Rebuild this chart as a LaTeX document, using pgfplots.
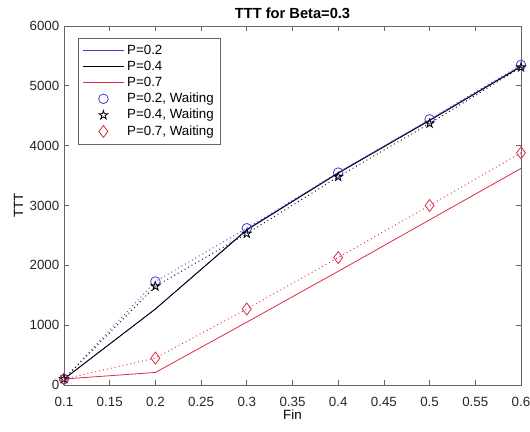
\documentclass[border=0pt]{standalone}
\usepackage{pgfplots}
\pgfplotsset{compat=1.18}
\usepackage{fontspec}
\setmainfont{Liberation Sans}
\definecolor{mblue}{rgb}{0.25,0.25,0.85}
\definecolor{mred}{rgb}{0.87,0.17,0.25}
\pgfdeclareplotmark{pentagram}{%
  \pgfpathmoveto{\pgfpointpolar{90}{\pgfplotmarksize}}%
  \pgfpathlineto{\pgfpointpolar{126}{0.382\pgfplotmarksize}}%
  \pgfpathlineto{\pgfpointpolar{162}{\pgfplotmarksize}}%
  \pgfpathlineto{\pgfpointpolar{198}{0.382\pgfplotmarksize}}%
  \pgfpathlineto{\pgfpointpolar{234}{\pgfplotmarksize}}%
  \pgfpathlineto{\pgfpointpolar{270}{0.382\pgfplotmarksize}}%
  \pgfpathlineto{\pgfpointpolar{306}{\pgfplotmarksize}}%
  \pgfpathlineto{\pgfpointpolar{342}{0.382\pgfplotmarksize}}%
  \pgfpathlineto{\pgfpointpolar{18}{\pgfplotmarksize}}%
  \pgfpathlineto{\pgfpointpolar{54}{0.382\pgfplotmarksize}}%
  \pgfpathclose\pgfusepathqstroke}
\begin{document}
\begin{tikzpicture}
\begin{axis}[
  scale only axis,
  width=342.75pt, height=269.25pt,
  xmin=0.1, xmax=0.6, ymin=0, ymax=6000,
  xtick={0.1,0.15,...,0.6},
  ytick={0,1000,...,6000},
  xticklabels={0.1,0.15,0.2,0.25,0.3,0.35,0.4,0.45,0.5,0.55,0.6},
  scaled y ticks=false,
  /pgf/number format/assume math mode=true,
  yticklabel style={/pgf/number format/1000 sep={}},
  xticklabel style={yshift=-5.5pt},
  tick align=inside,
  tick pos=both,
  major tick length=4pt,
  ticklabel style={font=\fontsize{10}{12}\selectfont, color=black!85},
  axis line style={black!60, line width=0.6pt},
  every tick/.style={black!60, line width=0.6pt},
  title={\bfseries TTT for Beta=0.3},
  title style={font=\fontsize{11}{13}\selectfont, yshift=-4pt},
  xlabel={Fin}, ylabel={TTT},
  label style={font=\fontsize{10}{12}\selectfont},
  xlabel style={yshift=4pt},
  ylabel style={yshift=-2pt},
  legend style={at={(0.0306,0.9666)}, anchor=north west, font=\fontsize{10}{12}\selectfont, draw=black!60, line width=0.6pt, row sep=-0.5pt, inner xsep=3pt, inner ysep=3pt},
  legend cell align=left,
  legend image code/.code={\draw[mark repeat=2,mark phase=2,#1] plot coordinates {(0pt,0pt) (15.5pt,0pt) (31pt,0pt)};},
]
\addplot[mblue, line width=0.6pt] coordinates {(0.1,100) (0.2,1270) (0.3,2600) (0.4,3550) (0.5,4430) (0.6,5330)};
\addlegendentry{P=0.2}
\addplot[black, line width=0.6pt] coordinates {(0.1,100) (0.2,1270) (0.3,2590) (0.4,3540) (0.5,4420) (0.6,5320)};
\addlegendentry{P=0.4}
\addplot[mred, line width=0.6pt] coordinates {(0.1,100) (0.2,210) (0.3,1050) (0.4,1900) (0.5,2760) (0.6,3620)};
\addlegendentry{P=0.7}
\addplot[mblue, only marks, mark=o, mark size=3.6pt, mark options={line width=0.6pt}] coordinates {(0.1,100) (0.2,1730) (0.3,2620) (0.4,3550) (0.5,4440) (0.6,5350)};
\addlegendentry{P=0.2, Waiting}
\addplot[black, only marks, mark=pentagram, mark size=3.4pt, mark options={line width=0.6pt}] coordinates {(0.1,100) (0.2,1650) (0.3,2530) (0.4,3480) (0.5,4370) (0.6,5310)};
\addlegendentry{P=0.4, Waiting}
\addplot[mred, only marks, mark=diamond, mark size=4.5pt, mark options={line width=0.6pt}] coordinates {(0.1,100) (0.2,450) (0.3,1270) (0.4,2130) (0.5,3000) (0.6,3880)};
\addlegendentry{P=0.7, Waiting}
\addplot[mblue, line width=0.7pt, dash pattern=on 0.7pt off 2.3pt, forget plot] coordinates {(0.1,100) (0.2,1730) (0.3,2620) (0.4,3550) (0.5,4440) (0.6,5350)};
\addplot[black, line width=0.7pt, dash pattern=on 0.7pt off 2.3pt, forget plot] coordinates {(0.1,100) (0.2,1650) (0.3,2530) (0.4,3480) (0.5,4370) (0.6,5310)};
\addplot[mred, line width=0.7pt, dash pattern=on 0.7pt off 2.3pt, forget plot] coordinates {(0.1,100) (0.2,450) (0.3,1270) (0.4,2130) (0.5,3000) (0.6,3880)};
\end{axis}
\pgfresetboundingbox
\path[use as bounding box] ([xshift=-48pt,yshift=-34.5pt]current axis.south west) rectangle ([xshift=6.75pt,yshift=19.5pt]current axis.north east);
\end{tikzpicture}
\end{document}
